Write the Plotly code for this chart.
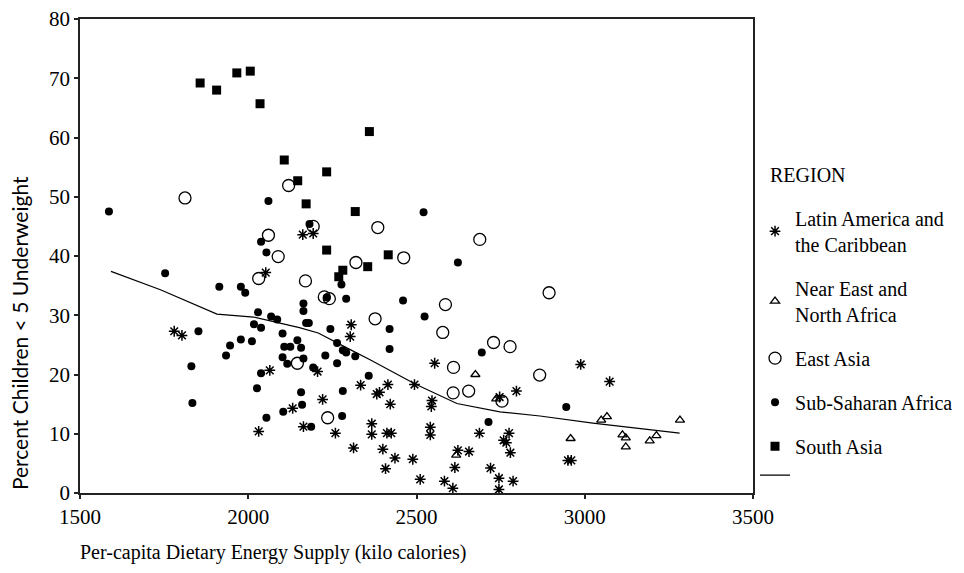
import plotly.graph_objects as go

# ---------------- data ----------------
latin_x = [2162, 2193, 2306, 2303, 2206, 2554, 2494, 2334, 2415, 2390, 2382, 2221,
           2422, 2546, 2544, 2797, 2747, 2164, 2367, 2367, 2412, 2425, 2259, 2541,
           2541, 2687, 2775, 2759, 2767, 2779, 2313, 2400, 2436, 2489, 2408, 2623,
           2656, 2614, 2720, 2745, 2787, 2511, 2583, 2608, 2745, 2052, 1780, 1803,
           2064, 2132, 2031, 2988, 3074, 2950, 2960]
latin_y = [43.6, 43.8, 28.4, 26.4, 20.5, 21.9, 18.3, 18.2, 18.3, 17.0, 16.7, 15.8,
           15.0, 15.6, 14.6, 17.2, 16.2, 11.2, 11.7, 9.9, 10.1, 10.1, 10.1, 11.1,
           9.8, 10.1, 10.1, 8.9, 8.5, 6.8, 7.6, 7.4, 5.9, 5.7, 4.1, 7.2,
           7.0, 4.3, 4.2, 2.5, 2.0, 2.3, 2.0, 0.8, 0.6, 37.2, 27.3, 26.6,
           20.7, 14.3, 10.4, 21.7, 18.8, 5.5, 5.5]

neareast_x = [2675, 2737, 2618, 3049, 3066, 2958, 3112, 3122, 3122, 3193, 3213, 3283]
neareast_y = [20.0, 15.9, 6.4, 12.3, 12.9, 9.2, 9.8, 9.3, 7.8, 8.8, 9.7, 12.3]

eastasia_x = [1812, 2120, 2060, 2193, 2385, 2688, 2462, 2320, 2170, 2226, 2241, 2586,
              2377, 2578, 2729, 2778, 2894, 2610, 2866, 2609, 2655, 2754, 2236, 2089,
              2031, 2146]
eastasia_y = [49.8, 51.9, 43.5, 45.0, 44.8, 42.8, 39.7, 38.9, 35.8, 33.1, 32.8, 31.8,
              29.4, 27.1, 25.4, 24.7, 33.8, 21.2, 19.9, 16.9, 17.2, 15.5, 12.7, 39.9,
              36.2, 21.9]

ssa_x = [1586, 2060, 2038, 2182, 2521, 2623, 2460, 2524, 2420, 2420, 2694, 2291,
         2277, 2164, 2164, 2172, 2180, 2244, 2157, 2164, 2229, 2264, 2281, 2291,
         2318, 2264, 2193, 2358, 2281, 2157, 2160, 2279, 2187, 2714, 2233, 1753,
         1914, 1978, 1991, 2054, 1852, 2029, 2017, 2038, 2068, 2086, 2102, 1978,
         2011, 1946, 1934, 2146, 2107, 2125, 2102, 2116, 1831, 2038, 2026, 2104,
         2054, 1834, 2945]
ssa_y = [47.5, 49.3, 42.4, 45.4, 47.4, 38.9, 32.5, 29.8, 27.7, 24.3, 23.7, 32.8,
         35.2, 32.0, 30.7, 28.7, 28.7, 27.7, 24.5, 22.7, 23.2, 25.3, 24.1, 23.7,
         23.1, 21.9, 21.2, 19.8, 17.2, 17.0, 14.9, 13.0, 11.2, 12.0, 33.0, 37.1,
         34.8, 34.8, 33.8, 40.6, 27.3, 30.5, 28.5, 27.9, 29.8, 29.3, 26.9, 25.9,
         25.6, 24.9, 23.2, 25.8, 24.7, 24.7, 22.9, 21.8, 21.4, 20.2, 17.7, 13.7,
         12.7, 15.2, 14.5]

southasia_x = [1857, 1906, 1966, 2006, 2035, 2107, 2147, 2172, 2360, 2233, 2318,
               2233, 2416, 2355, 2281, 2269]
southasia_y = [69.2, 68.0, 70.9, 71.2, 65.7, 56.2, 52.7, 48.8, 61.0, 54.2, 47.5,
               41.0, 40.2, 38.2, 37.6, 36.5]

fit_x = [1592, 1739, 1907, 2016, 2152, 2208, 2303, 2362, 2496, 2620, 2748, 2867, 3024, 3282]
fit_y = [37.4, 34.3, 30.2, 29.7, 27.9, 27.0, 24.2, 22.5, 18.4, 15.1, 13.7, 13.0, 11.8, 10.1]

x_ticks = [1500, 2000, 2500, 3000, 3500]
y_ticks = [0, 10, 20, 30, 40, 50, 60, 70, 80]

# ---------------- figure ----------------
SERIF = "Liberation Serif"
fig = go.Figure()

fig.add_trace(go.Scatter(x=latin_x, y=latin_y, mode="markers",
                         name="Latin America and<br>the Caribbean", legendgroup="a",
                         marker=dict(symbol="asterisk-open", size=9, color="black",
                                     line=dict(color="black", width=1.5))))
fig.add_trace(go.Scatter(x=neareast_x, y=neareast_y, mode="markers",
                         name="Near East and<br>North Africa", legendgroup="b",
                         marker=dict(symbol="triangle-up-open", size=8, color="black",
                                     line=dict(color="black", width=1.3))))
fig.add_trace(go.Scatter(x=eastasia_x, y=eastasia_y, mode="markers",
                         name="East Asia", legendgroup="c",
                         marker=dict(symbol="circle-open", size=12, color="black",
                                     line=dict(color="black", width=1.3))))
fig.add_trace(go.Scatter(x=ssa_x, y=ssa_y, mode="markers",
                         name="Sub-Saharan Africa", legendgroup="d",
                         marker=dict(symbol="circle", size=8, color="black")))
fig.add_trace(go.Scatter(x=southasia_x, y=southasia_y, mode="markers",
                         name="South Asia", legendgroup="e",
                         marker=dict(symbol="square", size=9, color="black")))
fig.add_trace(go.Scatter(x=fit_x, y=fit_y, mode="lines", name=" ", legendgroup="e",
                         line=dict(color="black", width=1.2)))

axis_common = dict(showline=True, mirror=True, linecolor="#222", linewidth=1.5,
                   ticks="outside", ticklen=4, tickwidth=1.5, tickcolor="#222",
                   showgrid=False, zeroline=False, automargin=False,
                   ticklabeloverflow="allow",
                   tickfont=dict(family=SERIF, size=21, color="black"))

fig.update_xaxes(range=[1500, 3500], tickvals=x_ticks, **axis_common)
fig.update_yaxes(range=[0, 80], tickvals=y_ticks, **axis_common)

fig.update_layout(
    width=964, height=573,
    margin=dict(l=72, r=219, t=11, b=88, autoexpand=False),
    paper_bgcolor="white", plot_bgcolor="white",
    showlegend=True,
    legend=dict(x=1.003, y=0.621, xanchor="left", yanchor="top",
                font=dict(family=SERIF, size=20, color="black"),
                itemwidth=30, tracegroupgap=15, bgcolor="rgba(0,0,0,0)"),
    annotations=[
        dict(text="REGION", xref="paper", yref="paper",
             x=(768 - 80) / 673, y=1 - (175 - 19) / 474,
             xanchor="left", yanchor="middle", showarrow=False,
             font=dict(family=SERIF, size=20, color="black")),
        dict(text="Per-capita Dietary Energy Supply (kilo calories)",
             xref="paper", yref="paper", x=-0.003, y=-0.1245,
             xanchor="left", yanchor="middle", showarrow=False,
             font=dict(family=SERIF, size=20, color="black")),
        dict(text="Percent Children &lt; 5 Underweight",
             xref="paper", yref="paper", x=-0.089, y=0.3376,
             xanchor="center", yanchor="middle", showarrow=False, textangle=-90,
             font=dict(family="Lato", size=21, color="black")),
    ],
)

fig.write_html("out.html")
